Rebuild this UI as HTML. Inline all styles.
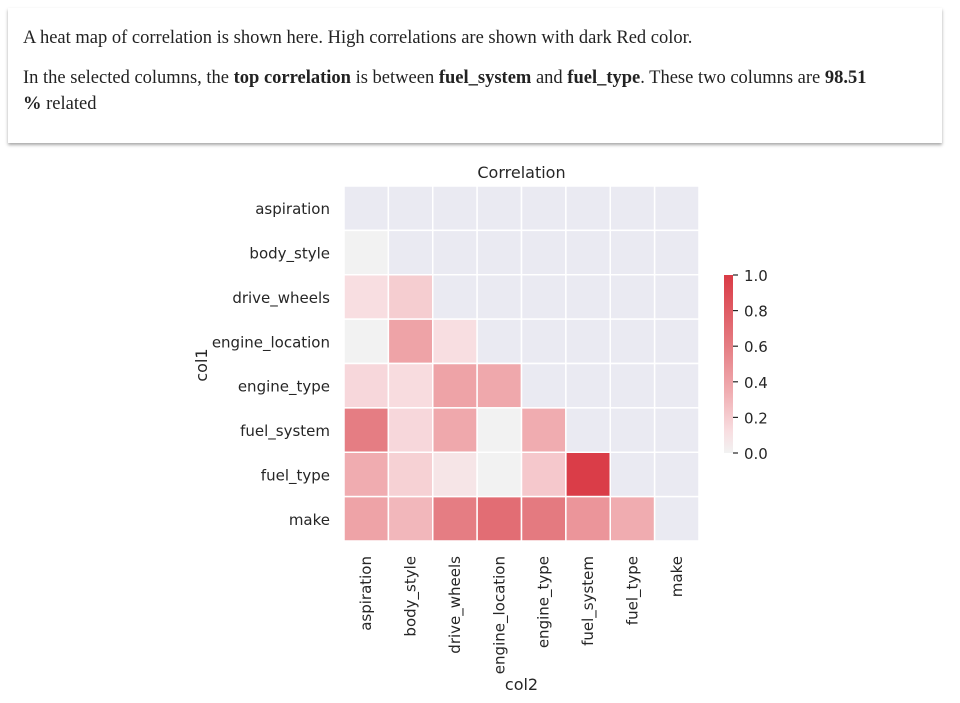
<!DOCTYPE html>
<html><head><meta charset="utf-8"><style>
body{margin:0;width:960px;height:703px;background:#fff;overflow:hidden;}
.card{position:absolute;left:8px;top:8px;width:934px;height:135px;background:#fff;box-shadow:0 2px 3px rgba(0,0,0,0.35);font-family:"Liberation Serif",serif;font-size:18.5px;color:#222;}
.card p{margin:0;position:absolute;left:15px;width:910px;line-height:26px;}
svg{position:absolute;left:0;top:0;}
text{font-family:"DejaVu Sans",sans-serif;fill:#262626;}
</style></head><body>
<div class="card">
<p style="top:17px">A heat map of correlation is shown here. High correlations are shown with dark Red color.</p>
<p style="top:57px">In the selected columns, the <b>top correlation</b> is between <b>fuel_system</b> and <b>fuel_type</b>. These two columns are <b>98.51<br>%</b> related</p>
</div>
<svg id="chart" width="960" height="703"></svg>
<script>
const labels=["aspiration","body_style","drive_wheels","engine_location","engine_type","fuel_system","fuel_type","make"];
const row1=[];
const row2=[0.0];
const row3=[0.12,0.2];
const row4=[0.0,0.4,0.12];
const row5=[0.15,0.13,0.4,0.37];
const row6=[0.6,0.15,0.37,0.0,0.35];
const row7=[0.35,0.18,0.08,0.0,0.22,0.985];
const row8=[0.4,0.3,0.6,0.7,0.62,0.47,0.35];
const rows=[row1,row2,row3,row4,row5,row6,row7,row8];
const cbTicks=[0,0.2,0.4,0.6,0.8,1.0];
const NS="http://www.w3.org/2000/svg";
const svg=document.getElementById('chart');
const x0=344,y0=186,W=355,H=355,n=labels.length,cw=W/n,ch=H/n;
function xs(j){return x0+j*cw;}
function ys(i){return y0+i*ch;}
const cmapStops=[[0,[242,242,242]],[0.12,[248,222,225]],[0.35,[240,172,176]],[0.6,[229,125,131]],[1,[218,59,70]]];
function color(v){
  for(let k=1;k<cmapStops.length;k++){
    const [p0,c0]=cmapStops[k-1],[p1,c1]=cmapStops[k];
    if(v<=p1){const f=(v-p0)/(p1-p0);return 'rgb('+c0.map((c,m)=>Math.round(c+(c1[m]-c)*f)).join(',')+')';}
  }
  return 'rgb(218,59,70)';
}
function mk(t,attrs){const e=document.createElementNS(NS,t);for(const k in attrs)e.setAttribute(k,attrs[k]);svg.appendChild(e);return e;}
for(let i=0;i<n;i++)for(let j=0;j<n;j++){
  const v=j<rows[i].length?rows[i][j]:null;
  const r=mk('rect',{x:xs(j),y:ys(i),width:cw,height:ch,fill:v===null?'#eaeaf2':color(v),stroke:'#fff','stroke-width':1.5});
  
  
}
labels.forEach((l,i)=>{
  const t=mk('text',{x:330,y:ys(i)+ch/2+6,'text-anchor':'end','font-size':15});t.textContent=l;
  
  
  const tx=xs(i)+cw/2+5;
  const u=mk('text',{x:tx,y:556,'text-anchor':'end','font-size':15,transform:'rotate(-90 '+tx+' 556)'});u.textContent=l;
  
  
});
const title=mk('text',{x:x0+W/2,y:178,'text-anchor':'middle','font-size':16});title.textContent='Correlation';


const yt=mk('text',{x:207,y:365,'text-anchor':'middle','font-size':16,transform:'rotate(-90 207 365)'});yt.textContent='col1';


const xt=mk('text',{x:x0+W/2,y:690,'text-anchor':'middle','font-size':16});xt.textContent='col2';


const cbTop=275,cbBot=453;
function cy(v){return cbBot-(cbBot-cbTop)*v;}
const defs=mk('defs',{});
const g=document.createElementNS(NS,'linearGradient');g.setAttribute('id','cbg');g.setAttribute('x1','0');g.setAttribute('y1','1');g.setAttribute('x2','0');g.setAttribute('y2','0');
defs.appendChild(g);
[0,0.12,0.35,0.6,1].forEach(v=>{const s=document.createElementNS(NS,'stop');s.setAttribute('offset',v);s.setAttribute('stop-color',color(v));g.appendChild(s);});
const cb=mk('rect',{x:724,y:cbTop,width:9,height:cbBot-cbTop,fill:'url(#cbg)'});


cbTicks.forEach(v=>{
  mk('line',{x1:733,x2:738,y1:cy(v),y2:cy(v),stroke:'#262626','stroke-width':1.2});
  const t=mk('text',{x:744,y:cy(v)+6,'font-size':15});t.textContent=v.toFixed(1);
  
  
});
</script>
</body></html>
